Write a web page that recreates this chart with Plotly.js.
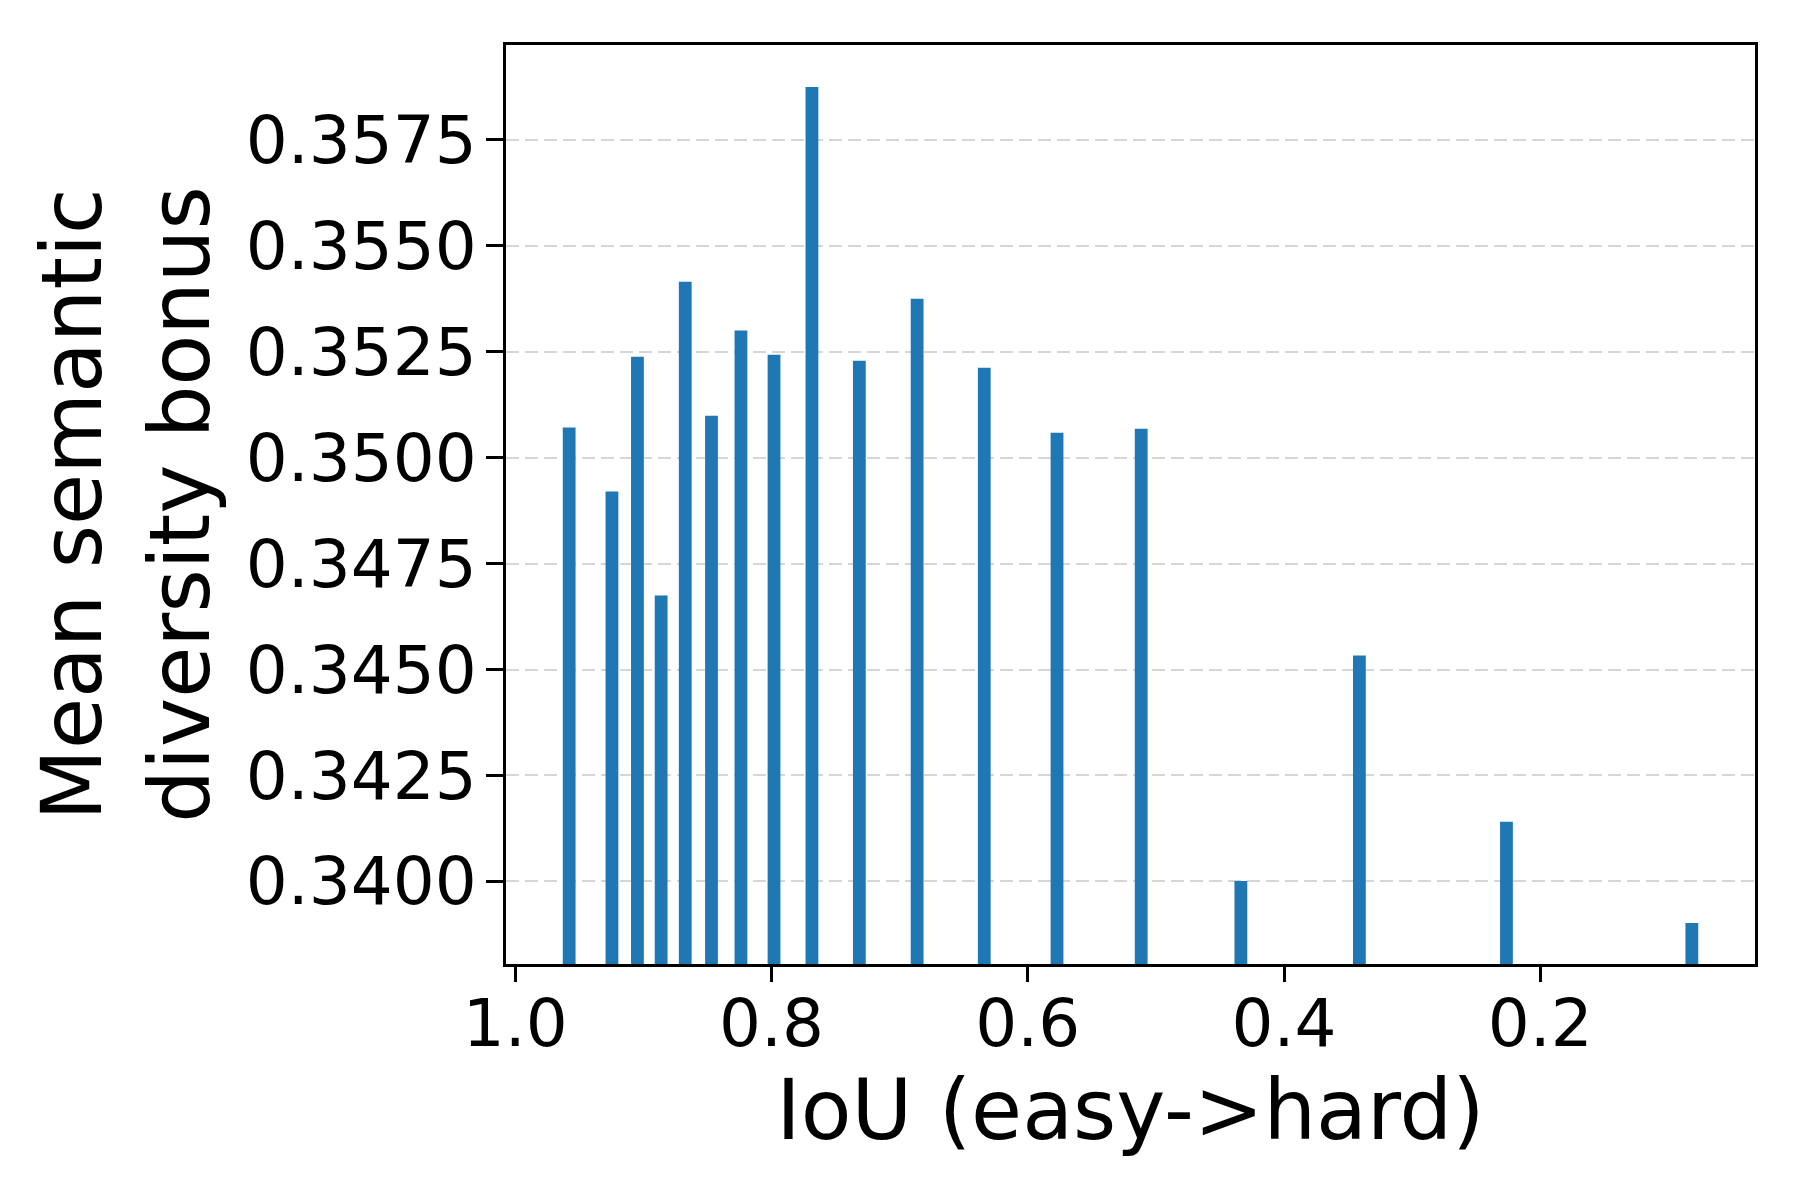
<!DOCTYPE html>
<html>
<head>
<meta charset="utf-8">
<script src="https://cdn.plot.ly/plotly-3.0.1.min.js"></script>
<style>
  html, body { margin: 0; padding: 0; background: #fff; }
  #chart { width: 1800px; height: 1200px; }
</style>
</head>
<body>
<div id="chart"></div>
<script>
// IoU bins (easy -> hard) and the mean semantic diversity bonus of each
const iouBins = [0.958, 0.9246, 0.9047, 0.8862, 0.8674, 0.8469, 0.8239, 0.7981, 0.7685,
                 0.7315, 0.6864, 0.6340, 0.5772, 0.5115, 0.4337, 0.3412, 0.2264, 0.0817];
const meanBonus = [0.35071, 0.34920, 0.35238, 0.34675, 0.35415, 0.35099, 0.35300, 0.35243, 0.35875,
                   0.35229, 0.35375, 0.35212, 0.35059, 0.35068, 0.34001, 0.34533, 0.34141, 0.33902];
const xTicks = [1.0, 0.8, 0.6, 0.4, 0.2];

const font = 'DejaVu Sans, sans-serif';

var data = [{
  type: 'bar',
  x: iouBins,
  y: meanBonus,
  width: 0.01,
  marker: { color: '#1f77b4', line: { width: 0 } },
  hoverinfo: 'x+y'
}];

var layout = {
  width: 1800,
  height: 1200,
  margin: { l: 506, r: 45, t: 45, b: 236 },
  paper_bgcolor: '#ffffff',
  plot_bgcolor: '#ffffff',
  showlegend: false,
  font: { family: font, color: '#000000' },
  xaxis: {
    range: [1.0073, 0.0324],
    tickvals: xTicks,
    ticktext: xTicks.map(v => v.toFixed(1)),
    ticks: 'outside',
    ticklen: 15,
    tickwidth: 3,
    tickcolor: '#000',
    ticklabelstandoff: -15,
    tickfont: { size: 66, family: font },
    showgrid: false,
    zeroline: false,
    showline: true,
    linecolor: '#000',
    linewidth: 3,
    mirror: true,
    title: { text: 'IoU (easy->hard)', font: { size: 83, family: font }, standoff: 18 }
  },
  yaxis: {
    range: [0.33805, 0.35974],
    tick0: 0.34,
    dtick: 0.0025,
    tickformat: '.4f',
    ticks: 'outside',
    ticklen: 17,
    tickwidth: 3,
    tickcolor: '#000',
    ticklabelstandoff: -4,
    tickfont: { size: 66, family: font },
    showgrid: true,
    gridcolor: '#d6d6d6',
    gridwidth: 2,
    griddash: '13px,6px',
    zeroline: false,
    showline: true,
    linecolor: '#000',
    linewidth: 3,
    mirror: true,
    title: { text: 'Mean semantic<br>diversity bonus', font: { size: 83, family: font }, standoff: 9 }
  }
};

Plotly.newPlot('chart', data, layout, { staticPlot: true });
</script>
</body>
</html>
